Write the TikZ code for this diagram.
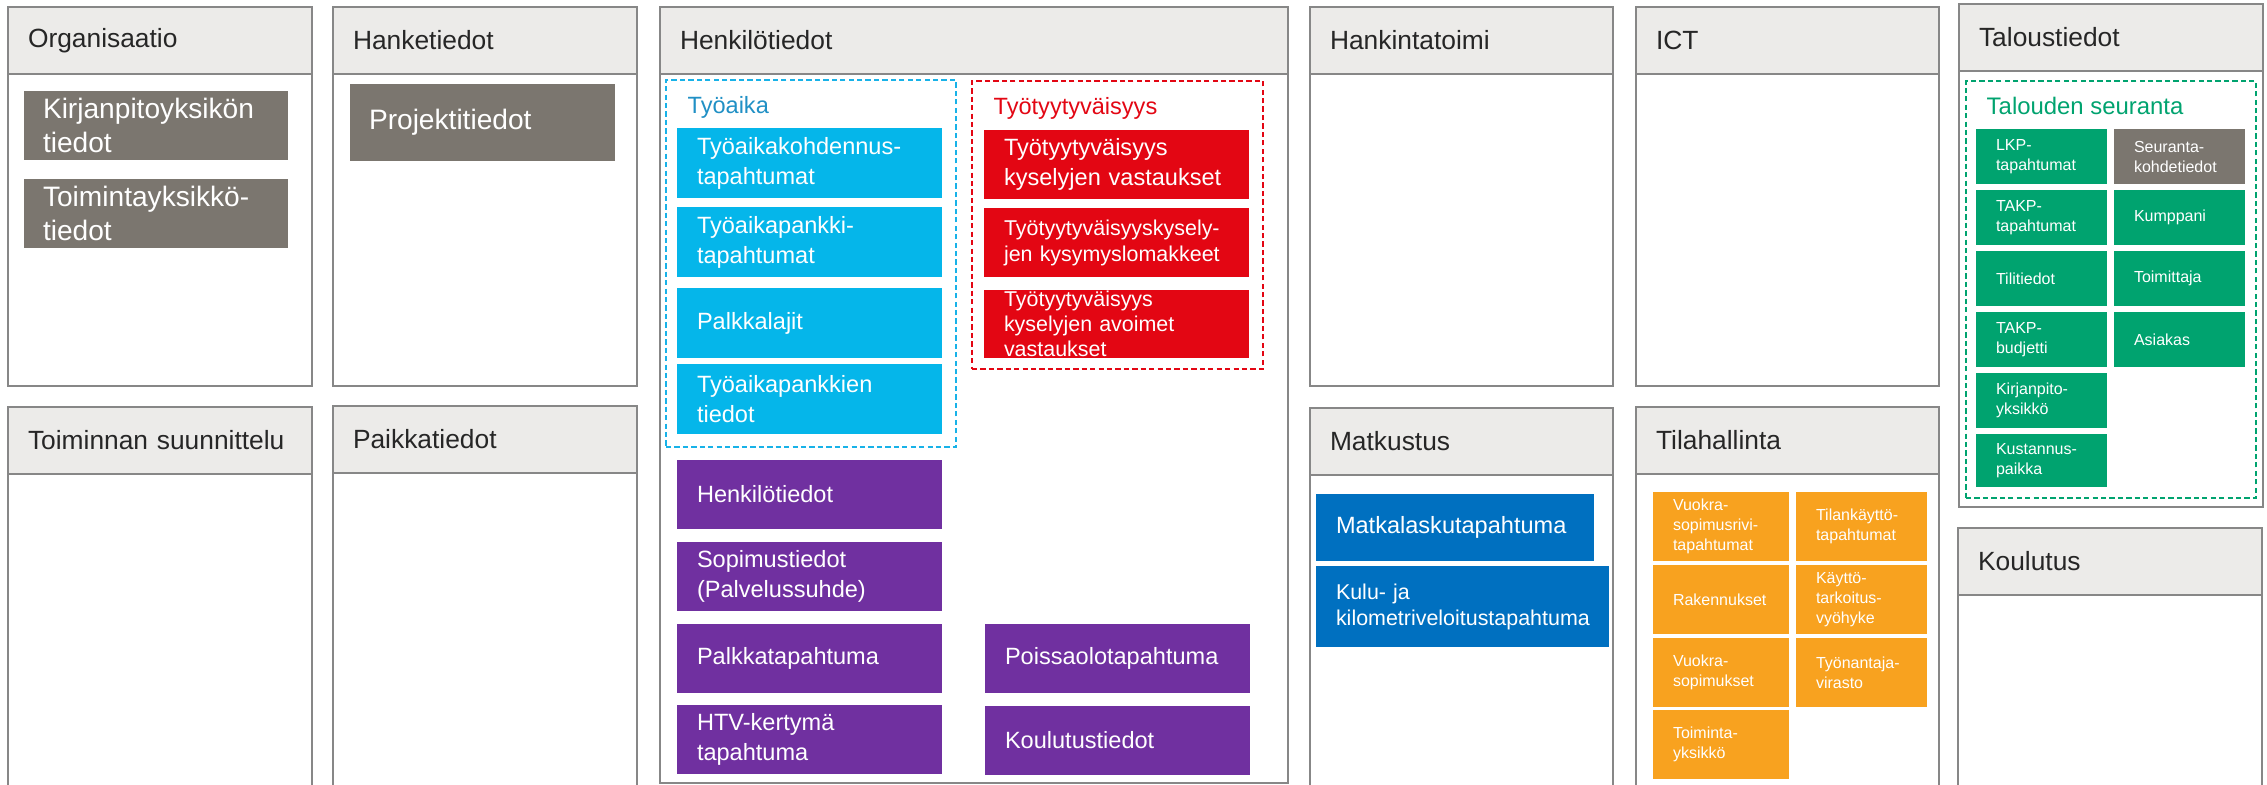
\documentclass[tikz,border=0pt]{standalone}
\usepackage{fontspec}
\usepackage{tikz}
\usetikzlibrary{positioning}
\setmainfont{Liberation Sans}
\hyphenpenalty=10000
\exhyphenpenalty=10000

\definecolor{panelGray}{HTML}{878787}
\definecolor{headGray}{HTML}{ECEBE9}
\definecolor{titleBlack}{HTML}{262626}
\definecolor{boxGray}{HTML}{7B766F}
\definecolor{cyanBox}{HTML}{05B6EA}
\definecolor{dashBlue}{HTML}{18B2E8}
\definecolor{labelBlue}{HTML}{2090C5}
\definecolor{redBox}{HTML}{E30613}
\definecolor{purpleBox}{HTML}{7030A0}
\definecolor{blueBox}{HTML}{0070C0}
\definecolor{orangeBox}{HTML}{F8A21F}
\definecolor{greenBox}{HTML}{00A36F}

\begin{document}
\begin{tikzpicture}
            % Set primary nodes
            \tikzset{
                panelNode/.style={
                        draw=panelGray,
                        line width=0.6pt,
                        fill=white,
                        rectangle,
                        anchor=north west,
                        inner sep=0pt,
                        outer sep=0pt
                    }
            }
            \tikzset{
                headNode/.style={
                        draw=panelGray,
                        line width=0.6pt,
                        fill=headGray,
                        rectangle,
                        anchor=north west,
                        outer sep=0pt,
                        minimum height=0.67cm,
                        inner xsep=0.2cm,
                        inner ysep=0pt,
                        text width=#1,
                        align=left,
                        text=titleBlack,
                        font=\fontsize{7.5}{9}\selectfont
                    }
            }
            \tikzset{
                frameNode/.style={
                        draw=#1,
                        dashed,
                        dash pattern=on 1.5pt off 0.9pt,
                        line width=0.6pt,
                        rectangle,
                        anchor=north west,
                        inner sep=0pt,
                        outer sep=0pt
                    }
            }
            \tikzset{
                tileNode/.style={
                        rectangle,
                        anchor=north west,
                        outer sep=0pt,
                        inner ysep=0pt,
                        align=left,
                        text=white
                    }
            }
            \tikzset{
                colourNode/.style={
                        tileNode,
                        fill=#1,
                        inner xsep=0.2cm,
                        text width=2.25cm,
                        minimum height=0.69cm,
                        font=\fontsize{6.7}{8.5}\selectfont
                    }
            }
            \tikzset{
                grayNode/.style={
                        tileNode,
                        fill=boxGray,
                        inner xsep=0.19cm,
                        text width=#1,
                        font=\fontsize{8}{9.7}\selectfont
                    }
            }
            \tikzset{
                travelNode/.style={
                        tileNode,
                        fill=blueBox,
                        inner xsep=0.2cm,
                        text width=#1
                    }
            }
            \tikzset{
                smallNode/.style={
                        tileNode,
                        fill=#1,
                        inner xsep=0.2cm,
                        font=\fontsize{4.55}{5.7}\selectfont
                    }
            }
            \tikzset{
                groupLabel/.style={
                        anchor=base west,
                        inner sep=0pt,
                        text=#1,
                        font=\fontsize{6.7}{8}\selectfont
                    }
            }
            \path[use as bounding box, fill=white] (0,0) rectangle (22.67,-7.84);
            % Placing panels
            \node[panelNode, minimum width=3.04cm, minimum height=3.79cm](org) at (0.08,-0.07){};
            \node[headNode=2.64cm](orgHead) at (org.north west){Organisaatio};
            \node[panelNode, minimum width=3.04cm, minimum height=3.79cm](hanke) at (3.33,-0.07){};
            \node[headNode=2.64cm](hankeHead) at (hanke.north west){Hanketiedot};
            \node[panelNode, minimum width=6.28cm, minimum height=7.76cm](henk) at (6.60,-0.07){};
            \node[headNode=5.88cm](henkHead) at (henk.north west){Henkilötiedot};
            \node[panelNode, minimum width=3.03cm, minimum height=3.79cm](hankinta) at (13.10,-0.07){};
            \node[headNode=2.63cm](hankintaHead) at (hankinta.north west){Hankintatoimi};
            \node[panelNode, minimum width=3.03cm, minimum height=3.79cm](ict) at (16.36,-0.07){};
            \node[headNode=2.63cm](ictHead) at (ict.north west){ICT};
            \node[panelNode, minimum width=3.04cm, minimum height=5.03cm](talous) at (19.59,-0.04){};
            \node[headNode=2.64cm](talousHead) at (talous.north west){Taloustiedot};
            \node[panelNode, minimum width=3.04cm, minimum height=4.00cm](toiminta) at (0.08,-4.07){};
            \node[headNode=2.64cm](toimintaHead) at (toiminta.north west){Toiminnan~suunnittelu};
            \node[panelNode, minimum width=3.04cm, minimum height=4.00cm](paikka) at (3.33,-4.06){};
            \node[headNode=2.64cm](paikkaHead) at (paikka.north west){Paikkatiedot};
            \node[panelNode, minimum width=3.03cm, minimum height=4.00cm](matka) at (13.10,-4.08){};
            \node[headNode=2.63cm](matkaHead) at (matka.north west){Matkustus};
            \node[panelNode, minimum width=3.03cm, minimum height=4.00cm](tila) at (16.36,-4.07){};
            \node[headNode=2.63cm](tilaHead) at (tila.north west){Tilahallinta};
            \node[panelNode, minimum width=3.04cm, minimum height=3.00cm](koulutus) at (19.58,-5.28){};
            \node[headNode=2.64cm](koulutusHead) at (koulutus.north west){Koulutus};
            % Dashed groups
            \node[frameNode=dashBlue, minimum width=2.90cm, minimum height=3.67cm](tyoaika) at (6.66,-0.80){};
            \node[groupLabel=labelBlue](tyoaikaLabel) at (6.87,-1.13){Työaika};
            \node[frameNode=redBox, minimum width=2.91cm, minimum height=2.88cm](tyytyv) at (9.72,-0.81){};
            \node[groupLabel=redBox](tyytyvLabel) at (9.93,-1.14){Työtyytyväisyys};
            \node[frameNode=greenBox, minimum width=2.90cm, minimum height=4.17cm](seuranta) at (19.66,-0.81){};
            \node[groupLabel=greenBox, font=\fontsize{6.8}{8}\selectfont](seurantaLabel) at (19.86,-1.14){Talouden seuranta};
            % Organisaatio and Hanketiedot
            \node[grayNode=2.26cm, minimum height=0.69cm](kirjanpito) at (0.24,-0.91){Kirjanpitoyksikön\\tiedot};
            \node[grayNode=2.26cm, minimum height=0.69cm](toimintayks) at (0.24,-1.79){Toimintayksikkö-\\tiedot};
            \node[grayNode=2.27cm, minimum height=0.77cm](projekti) at (3.50,-0.84){Projektitiedot};
            % Henkilötiedot
            \node[colourNode=cyanBox, minimum height=0.70cm](kohdennus) at (6.77,-1.28){Työaikakohdennus-\\tapahtumat};
            \node[colourNode=cyanBox, minimum height=0.70cm, below = 0.09cm of kohdennus](pankki){Työaikapankki-\\tapahtumat};
            \node[colourNode=cyanBox, minimum height=0.70cm, below = 0.11cm of pankki](palkkalajit){Palkkalajit};
            \node[colourNode=cyanBox, minimum height=0.70cm, below = 0.06cm of palkkalajit](pankkitiedot){Työaikapankkien\\tiedot};
            \node[colourNode=redBox](vastaukset) at (9.84,-1.30){Työtyytyväisyys\\kyselyjen~vastaukset};
            \node[colourNode=redBox, below = 0.09cm of vastaukset, font=\fontsize{6.1}{7.4}\selectfont](lomakkeet){Työtyytyväisyyskysely-\\jen~kysymyslomakkeet};
            \node[colourNode=redBox, below = 0.13cm of lomakkeet, minimum height=0.68cm, font=\fontsize{6.1}{7.1}\selectfont](avoimet){Työtyytyväisyys\\kyselyjen~avoimet\\vastaukset};
            \node[colourNode=purpleBox](henkilo) at (6.77,-4.60){Henkilötiedot};
            \node[colourNode=purpleBox, below = 0.13cm of henkilo](sopimus){Sopimustiedot\\(Palvelussuhde)};
            \node[colourNode=purpleBox, below = 0.13cm of sopimus](palkka){Palkkatapahtuma};
            \node[colourNode=purpleBox, below = 0.12cm of palkka](htv){HTV-kertymä\\tapahtuma};
            \node[colourNode=purpleBox](poissaolo) at (9.85,-6.24){Poissaolotapahtuma};
            \node[colourNode=purpleBox, below = 0.13cm of poissaolo](koulutustiedot){Koulutustiedot};
            % Matkustus
            \node[travelNode=2.38cm, minimum height=0.67cm, font=\fontsize{6.7}{7.4}\selectfont](matkalasku) at (13.16,-4.94){Matkalaskutapahtuma};
            \node[travelNode=2.53cm, minimum height=0.81cm, font=\fontsize{6.1}{7.4}\selectfont](kilometri) at (13.16,-5.66){Kulu- ja\\kilometriveloitustapahtuma};
            % Tilahallinta
            \node[smallNode=orangeBox, text width=0.96cm, minimum height=0.69cm](vuokrarivi) at (16.53,-4.92){Vuokra-\\sopimusrivi-\\tapahtumat};
            \node[smallNode=orangeBox, text width=0.96cm, minimum height=0.69cm, below = 0.04cm of vuokrarivi](rakennukset){Rakennukset};
            \node[smallNode=orangeBox, text width=0.96cm, minimum height=0.69cm, below = 0.04cm of rakennukset](vuokrasop){Vuokra-\\sopimukset};
            \node[smallNode=orangeBox, text width=0.96cm, minimum height=0.69cm, below = 0.03cm of vuokrasop](toimintaYks){Toiminta-\\yksikkö};
            \node[smallNode=orangeBox, text width=0.91cm, minimum height=0.69cm](tilankaytto) at (17.96,-4.92){Tilankäyttö-\\tapahtumat};
            \node[smallNode=orangeBox, text width=0.91cm, minimum height=0.69cm, below = 0.04cm of tilankaytto](vyohyke){Käyttö-\\tarkoitus-\\vyöhyke};
            \node[smallNode=orangeBox, text width=0.91cm, minimum height=0.69cm, below = 0.04cm of vyohyke](virasto){Työnantaja-\\virasto};
            % Taloustiedot
            \node[smallNode=greenBox, text width=0.91cm, minimum height=0.55cm](lkp) at (19.76,-1.29){LKP-\\tapahtumat};
            \node[smallNode=greenBox, text width=0.91cm, minimum height=0.55cm, below = 0.06cm of lkp](takp){TAKP-\\tapahtumat};
            \node[smallNode=greenBox, text width=0.91cm, minimum height=0.55cm, below = 0.06cm of takp](tilit){Tilitiedot};
            \node[smallNode=greenBox, text width=0.91cm, minimum height=0.55cm, below = 0.06cm of tilit](budjetti){TAKP-\\budjetti};
            \node[smallNode=greenBox, text width=0.91cm, minimum height=0.55cm, below = 0.06cm of budjetti](kpyksikko){Kirjanpito-\\yksikkö};
            \node[smallNode=greenBox, text width=0.91cm, minimum height=0.53cm, below = 0.06cm of kpyksikko](kustannus){Kustannus-\\paikka};
            \node[smallNode=boxGray, text width=0.91cm, minimum height=0.55cm](kohde) at (21.14,-1.29){Seuranta-\\kohdetiedot};
            \node[smallNode=greenBox, text width=0.91cm, minimum height=0.55cm, below = 0.06cm of kohde](kumppani){Kumppani};
            \node[smallNode=greenBox, text width=0.91cm, minimum height=0.55cm, below = 0.06cm of kumppani](toimittaja){Toimittaja};
            \node[smallNode=greenBox, text width=0.91cm, minimum height=0.55cm, below = 0.06cm of toimittaja](asiakas){Asiakas};
        \end{tikzpicture}
\end{document}
